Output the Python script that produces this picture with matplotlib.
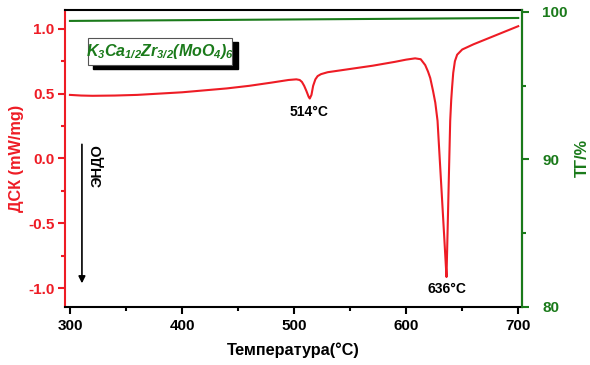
import matplotlib
matplotlib.use('Agg')
import matplotlib.pyplot as plt
from matplotlib.patches import Rectangle

plt.rcParams['font.family'] = ['Liberation Sans', 'DejaVu Sans']
plt.rcParams['font.weight'] = 'bold'
plt.rcParams['mathtext.fontset'] = 'custom'
plt.rcParams['mathtext.it'] = 'Liberation Sans:bold:italic'
plt.rcParams['mathtext.rm'] = 'Liberation Sans:bold:italic'

# DSC curve
temp = [300, 310, 320, 340, 360, 380, 400, 420, 440, 460, 480, 495, 502,
        505, 507, 509, 511, 513, 514, 515.5, 517, 519, 521, 524, 530, 550,
        570, 590, 600, 608, 613, 617, 619.5, 621.5, 624, 626, 628, 630,
        632, 634, 635.5, 636, 637, 638, 639.3, 640.2, 641, 642, 643.5,
        645.5, 650, 660, 680, 700]
dsc = [0.49, 0.485, 0.483, 0.485, 0.49, 0.50, 0.51, 0.525, 0.54, 0.56,
       0.585, 0.605, 0.61, 0.605, 0.59, 0.56, 0.52, 0.475, 0.462, 0.49,
       0.56, 0.61, 0.635, 0.65, 0.665, 0.69, 0.715, 0.745, 0.762, 0.772,
       0.765, 0.72, 0.67, 0.62, 0.52, 0.43, 0.29, -0.01, -0.31, -0.61,
       -0.84, -0.915, -0.55, -0.18, 0.29, 0.45, 0.55, 0.66, 0.75, 0.80,
       0.84, 0.88, 0.95, 1.02]

# TG curve
tg_temp = [300, 400, 500, 600, 700]
tg = [99.38, 99.43, 99.48, 99.53, 99.58]

red = '#ee1c25'
green = '#1a7a1a'

fig = plt.figure(figsize=(5.9, 3.65), dpi=100)
ax = fig.add_axes([0.110, 0.159, 0.775, 0.814])
ax2 = ax.twinx()

ax.plot(temp, dsc, color=red, lw=1.5)
ax2.plot(tg_temp, tg, color=green, lw=1.5)

ax.set_xlim(295.5, 703.5)
ax.set_ylim(-1.146, 1.146)
ax2.set_ylim(80, 100.13)

ax.set_xticks([300, 400, 500, 600, 700])
ax.set_xticks([350, 450, 550, 650], minor=True)
ax.set_yticks([-1.0, -0.5, 0.0, 0.5, 1.0])
ax.set_yticks([-0.75, -0.25, 0.25, 0.75], minor=True)
ax2.set_yticks([80, 90, 100])
ax2.set_yticks([85, 95], minor=True)

ax.spines['left'].set_color(red)
ax2.spines['left'].set_visible(False)
ax2.spines['right'].set_color(green)
ax2.spines['top'].set_visible(False)
ax2.spines['bottom'].set_visible(False)
for s in ax.spines.values():
    s.set_linewidth(1.5)
ax2.spines['right'].set_linewidth(1.5)

ax.tick_params(axis='x', which='major', length=5, width=1.5, labelsize=11, colors='black')
ax.tick_params(axis='x', which='minor', length=3, width=1.5)
ax.tick_params(axis='y', which='major', length=5, width=1.5, labelsize=11,
               colors=red, pad=2.5)
ax.tick_params(axis='y', which='minor', length=3, width=1.5, colors=red)
ax2.tick_params(axis='y', which='major', length=5, width=1.5, labelsize=11,
                colors=green, pad=9.5)
ax2.tick_params(axis='y', which='minor', length=3, width=1.5, colors=green)
ax.set_yticklabels(['-1.0', '-0.5', '0.0', '0.5', '1.0'])

ax.set_xlabel('Температура(°C)', fontsize=11.7, fontweight='bold', labelpad=7)
ax.set_ylabel('ДСК (mW/mg)', fontsize=11.7, fontweight='bold', color=red, labelpad=3)
ax2.set_ylabel('ТГ/%', fontsize=11.7, fontweight='bold', color=green, labelpad=5)

ax.text(513, 0.355, '514°C', ha='center', va='center', fontsize=10, fontweight='bold')
ax.text(636.5, -1.01, '636°C', ha='center', va='center', fontsize=10, fontweight='bold')

# endo arrow
ax.annotate('', xy=(310.7, -0.985), xytext=(310.7, 0.13),
            arrowprops=dict(arrowstyle='-|>', color='black', lw=1.2,
                            mutation_scale=10))
ax.text(325, -0.054, 'ЭНДО', rotation=90, ha='center', va='center',
        fontsize=10.5, fontweight='bold')

# compound label box with shadow
ax.add_patch(Rectangle((321, 0.69), 128.6, 0.21, facecolor='black',
                       edgecolor='black', zorder=3))
ax.add_patch(Rectangle((316, 0.72), 128.6, 0.21, facecolor='white',
                       edgecolor='#555555', lw=0.8, zorder=4))
ax.text(380.3, 0.825, r'$K_3Ca_{1/2}Zr_{3/2}(MoO_4)_6$', ha='center', va='center',
        fontsize=11.5, color=green, zorder=5)

fig.savefig('out.png', dpi=100)
